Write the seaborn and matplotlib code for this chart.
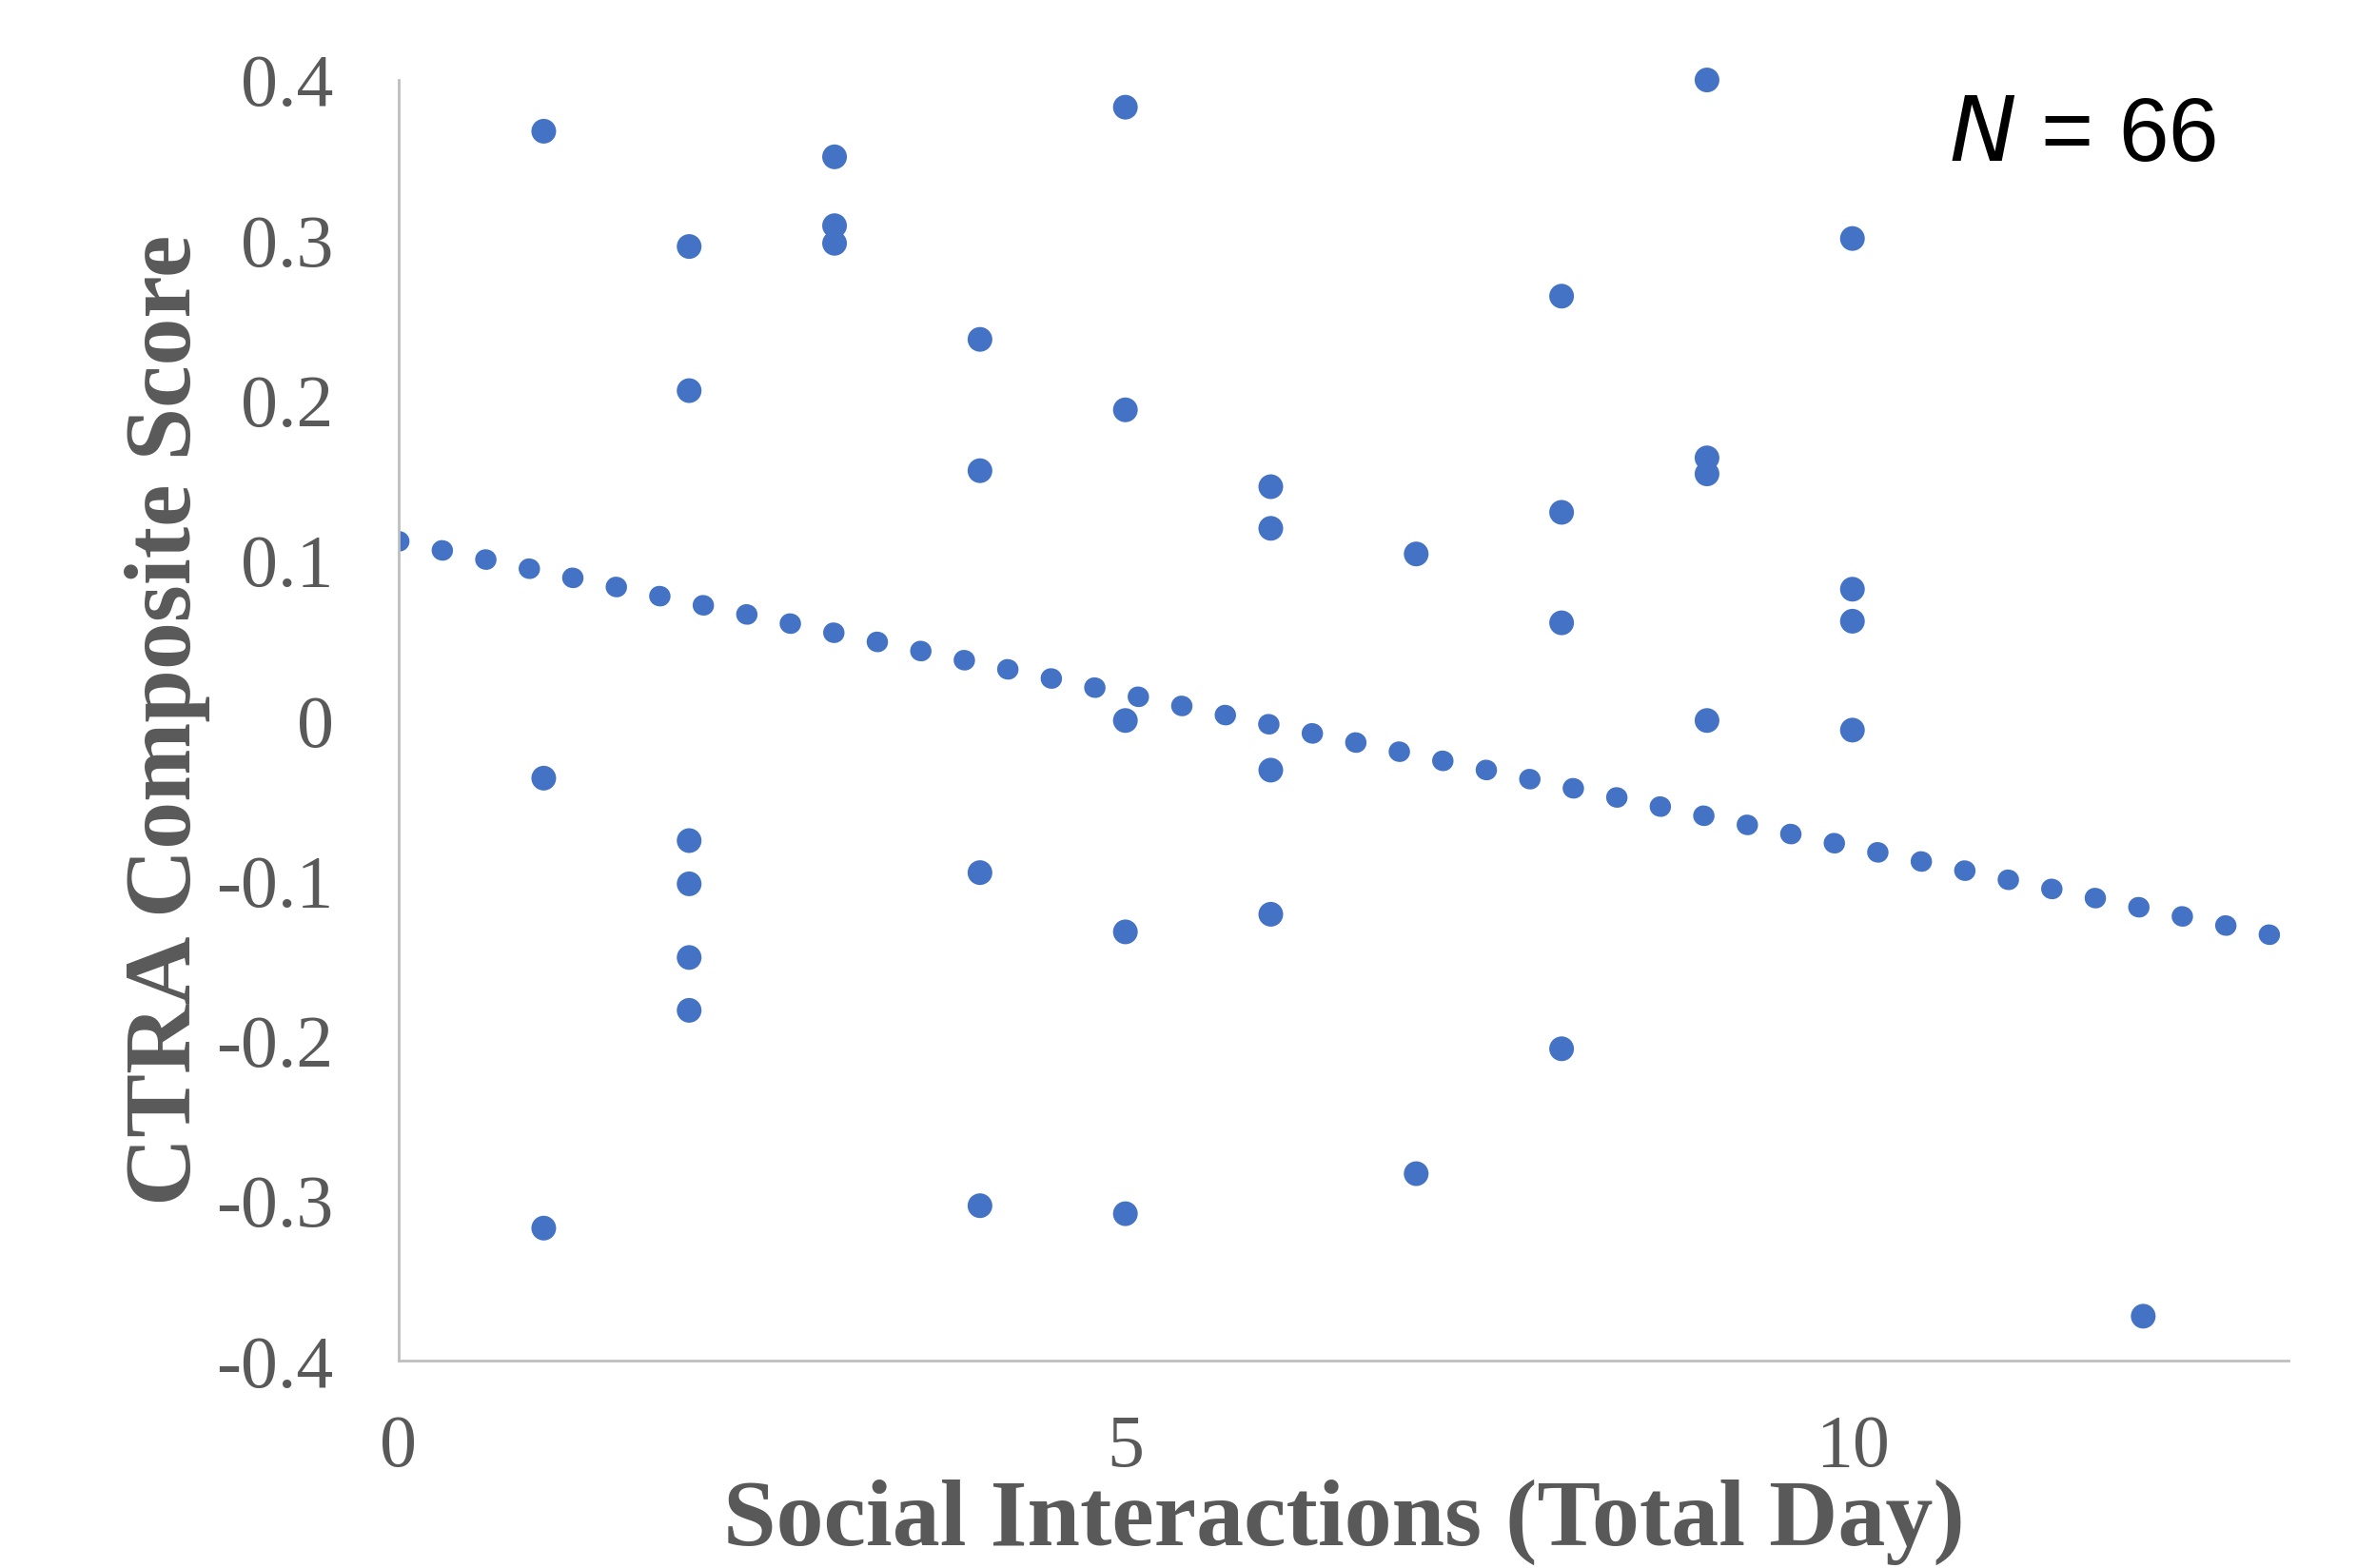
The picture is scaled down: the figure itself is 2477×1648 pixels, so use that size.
import numpy as np
import pandas as pd
import matplotlib
import matplotlib.pyplot as plt
import seaborn as sns

matplotlib.use('Agg')

# Data (x = social interactions, y = CTRA score)
interactions = [1, 1, 1,
                2, 2, 2, 2, 2, 2,
                3, 3, 3,
                4, 4, 4, 4,
                5, 5, 5, 5, 5,
                6, 6, 6, 6,
                7, 7,
                8, 8, 8, 8,
                9, 9, 9, 9,
                10, 10, 10, 10,
                12]
ctra_score = [0.368, -0.036, -0.317,
              0.296, 0.206, -0.075, -0.102, -0.148, -0.181,
              0.352, 0.309, 0.298,
              0.238, 0.156, -0.095, -0.303,
              0.383, 0.194, 0.0, -0.132, -0.308,
              0.146, 0.120, -0.031, -0.121,
              0.104, -0.283,
              0.265, 0.130, 0.061, -0.205,
              0.400, 0.164, 0.154, 0.0,
              0.301, 0.082, 0.062, -0.006,
              -0.372]

# linear trendline (Excel style)
trend_intercept = 0.112
trend_slope = -0.0191
trend_x = [0, 13]

x_ticks = [0, 5, 10]
y_ticks = [-0.4, -0.3, -0.2, -0.1, 0, 0.1, 0.2, 0.3, 0.4]
y_tick_labels = ['-0.4', '-0.3', '-0.2', '-0.1', '0', '0.1', '0.2', '0.3', '0.4']

df = pd.DataFrame({'x': interactions, 'y': ctra_score})

sns.set_style('white')
plt.rcParams['font.family'] = ['Liberation Serif', 'DejaVu Serif']

blue = '#4472C4'
grey = '#595959'

fig = plt.figure(figsize=(24.77, 16.48), dpi=100)
ax = fig.add_axes([0.169, 0.132, 0.802, 0.817])

# trendline drawn as round dots
tx = np.array(trend_x, dtype=float)
ax.plot(tx, trend_intercept + trend_slope * tx, color=blue, linewidth=15.5,
        linestyle=(0, (0.05, 2.12)), dash_capstyle='round', zorder=2)

sns.scatterplot(data=df, x='x', y='y', ax=ax, color=blue, s=350,
                edgecolor='none', linewidth=0, zorder=3, clip_on=False)

ax.set_xlim(0, 13)
ax.set_ylim(-0.4, 0.4)
ax.set_xticks(x_ticks)
ax.set_yticks(y_ticks)
ax.set_yticklabels(y_tick_labels)
ax.tick_params(axis='both', length=0, labelsize=56, colors=grey)
ax.tick_params(axis='y', pad=49)
ax.tick_params(axis='x', pad=40)

for side in ['top', 'right']:
    ax.spines[side].set_visible(False)
for side in ['left', 'bottom']:
    ax.spines[side].set_color('#BFBFBF')
    ax.spines[side].set_linewidth(2)

ax.set_xlabel('Social Interactions (Total Day)', fontsize=72, fontweight='bold',
              color=grey, va='center')
ax.xaxis.set_label_coords(0.5, -0.126)
ax.set_ylabel('CTRA Composite Score', fontsize=72, fontweight='bold',
              color=grey, va='center')
ax.yaxis.set_label_coords(-0.122, 0.5)

ax.text(0.962, 0.937, r'$\it{N}$ = 66', transform=ax.transAxes, ha='right',
        va='baseline', fontsize=68, color='black', family=['Liberation Sans'])

fig.savefig('out.png', dpi=100)
